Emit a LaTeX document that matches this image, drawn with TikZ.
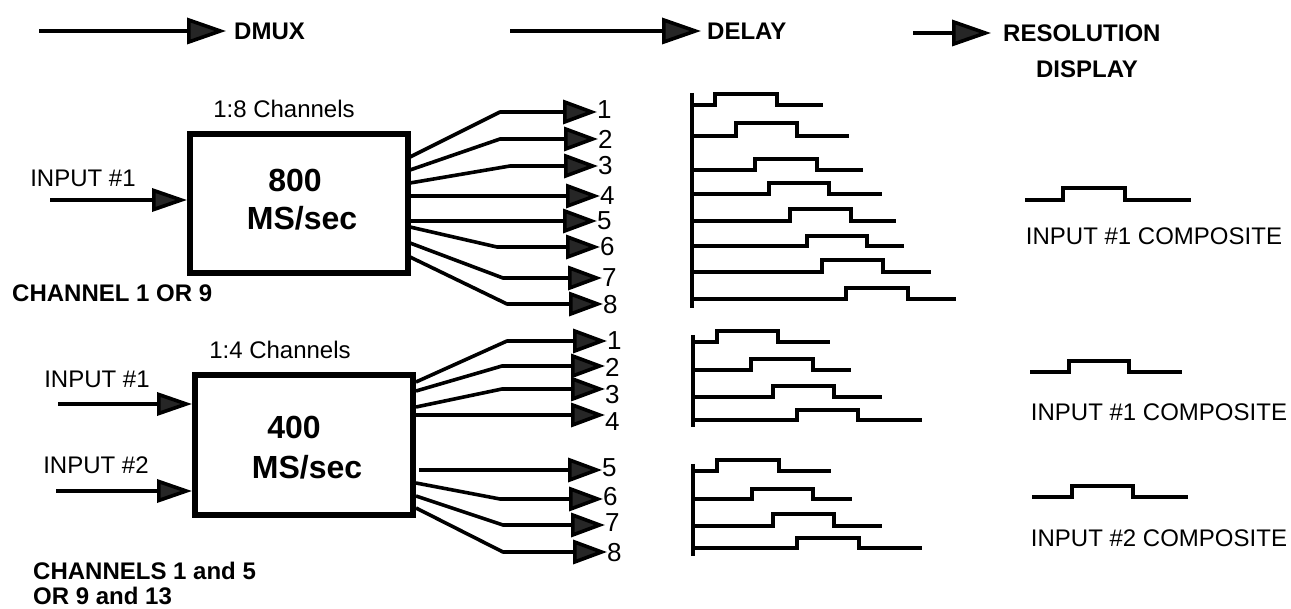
\documentclass[tikz,border=0pt]{standalone}
\usepackage{fontspec}
\setmainfont{Liberation Sans}
\usetikzlibrary{arrows.meta}
\begin{document}
\begin{tikzpicture}[x=1pt,y=-1pt,
  txt/.style={font=\fontsize{24}{28}\selectfont, inner sep=0pt},
  btxt/.style={font=\fontsize{24}{28}\selectfont\bfseries, inner sep=0pt},
  bigtxt/.style={font=\fontsize{32}{36}\selectfont\bfseries, inner sep=0pt},
  numtxt/.style={font=\fontsize{26}{28}\selectfont, inner sep=0pt, anchor=west},
  hdrarrow/.style={line width=3.6pt, -{Triangle[length=39pt,width=26pt,fill=black!85]}},
  arr/.style={line width=3.6pt, line join=round, -{Triangle[length=34pt,width=24pt,fill=black!85]}},
  inarr/.style={line width=3.6pt, -{Triangle[length=35pt,width=23pt,fill=black!85]}},
  dmuxbox/.style={draw, line width=6pt, inner sep=0pt},
  wave/.style={line width=3.2pt, line join=miter},
  waveaxis/.style={line width=4pt}
]
\useasboundingbox (0,0) rectangle (1291,609);

% ---------- header ----------
\node[btxt, anchor=west] (dmux) at (234,31) {DMUX};
\coordinate (h1) at (39,31);
\draw[hdrarrow] (h1) -- ([xshift=-8pt]dmux.west);
\node[btxt, anchor=west] (delay) at (707,31) {DELAY};
\coordinate (h2) at (510,31);
\draw[hdrarrow] (h2) -- ([xshift=-6pt]delay.west);
\node[btxt, anchor=west] (res) at (1003,33) {RESOLUTION};
\node[btxt] (disp) at (1087,69) {DISPLAY};
\coordinate (h3) at (913,33);
\draw[hdrarrow] (h3) -- ([xshift=-12pt]res.west);

% ---------- DMUX 1:8 ----------
\node[dmuxbox, minimum width=218pt, minimum height=139pt] (box1) at (299,203.5) {};
\node[txt] (ch8) at (284,109) {1:8 Channels};
\node[bigtxt] (t800) at (295,180) {800};
\node[bigtxt] (tms1) at (302,218) {MS/sec};
\node[txt] (in11) at (83,178) {INPUT \#1};
\coordinate (i11) at (50,200);
\draw[inarr] (i11) -- (i11 -| box1.west);
\node[btxt, anchor=west] (chn1) at (12,293) {CHANNEL 1 OR 9};

\foreach \i/\sy/\bx/\by/\tx/\dy in {1/157/500/112/597/-2, 2/170/500/139/598/0, 3/183/510/166/598/0,
  4/196/500/196/600/0, 5/221/500/221/597/0, 6/227/497/247/600/0, 7/243/503/278/602/0, 8/257/507/304/603/1} {
  \coordinate (a\i) at (410,\sy);
  \coordinate (ab\i) at (\bx,\by);
  \node[numtxt] (p\i) at (\tx,\by+\dy) {\i};
  \draw[arr] (a\i) -- (ab\i) -- (p\i.west |- ab\i);
}

% ---------- DMUX 1:4 ----------
\node[dmuxbox, minimum width=218pt, minimum height=140pt] (box2) at (304,445) {};
\node[txt] (ch4) at (280,350) {1:4 Channels};
\node[bigtxt] (t400) at (294,427) {400};
\node[bigtxt] (tms2) at (307,467) {MS/sec};
\node[txt] (in21) at (97,379) {INPUT \#1};
\coordinate (i21) at (58,404);
\draw[inarr] (i21) -- (i21 -| box2.west);
\node[txt] (in22) at (96,465) {INPUT \#2};
\coordinate (i22) at (56,491);
\draw[inarr] (i22) -- (i22 -| box2.west);
\node[btxt, anchor=west] (chn2a) at (33,571) {CHANNELS 1 and 5};
\node[btxt, anchor=west] (chn2b) at (33,596) {OR 9 and 13};

\foreach \i/\sx/\sy/\bx/\by/\tx/\dy in {1/416/382/507/341/607/0, 2/416/391/502/366/605/1, 3/416/407/502/389/605/6,
  4/416/415/500/415/605/7, 5/419/470/500/470/602/-2, 6/416/483/500/499/603/-2, 7/416/496/503/525/605/-2, 8/416/508/503/552/607/1} {
  \coordinate (c\i) at (\sx,\sy);
  \coordinate (cb\i) at (\bx,\by);
  \node[numtxt] (q\i) at (\tx,\by+\dy) {\i};
  \draw[arr] (c\i) -- (cb\i) -- (q\i.west |- cb\i);
}

% ---------- delay waveforms ----------
\draw[waveaxis] (692,93) -- (692,308);
\foreach \b/\h/\r/\f/\e in {105/94/715/777/823, 136/123/736/797/849, 170/159/755/817/863,
  194/183/769/829/882, 221/209/790/851/896, 246/236/807/867/904, 272/260/822/883/931, 299/288/846/908/956}
  \draw[wave] (692,\b) -- (\r,\b) -- (\r,\h) -- (\f,\h) -- (\f,\b) -- (\e,\b);

\draw[waveaxis] (693,335) -- (693,427);
\foreach \b/\h/\r/\f/\e in {342/331/717/778/830, 370/359/751/813/851, 397/386/773/834/882, 420/410/797/858/922}
  \draw[wave] (693,\b) -- (\r,\b) -- (\r,\h) -- (\f,\h) -- (\f,\b) -- (\e,\b);

\draw[waveaxis] (693,464) -- (693,556);
\foreach \b/\h/\r/\f/\e in {471/460/717/779/831, 499/489/752/813/852, 526/514/773/834/882, 548/538/797/859/922}
  \draw[wave] (693,\b) -- (\r,\b) -- (\r,\h) -- (\f,\h) -- (\f,\b) -- (\e,\b);

% ---------- resolution display ----------
\foreach \s/\b/\h/\r/\f/\e in {1025/200/188/1063/1125/1191, 1030/372/361/1069/1129/1182, 1032/497/486/1072/1133/1188}
  \draw[wave] (\s,\b) -- (\r,\b) -- (\r,\h) -- (\f,\h) -- (\f,\b) -- (\e,\b);
\node[txt] (comp1) at (1154,236) {INPUT \#1 COMPOSITE};
\node[txt] (comp2) at (1159,412) {INPUT \#1 COMPOSITE};
\node[txt] (comp3) at (1159,538) {INPUT \#2 COMPOSITE};
\end{tikzpicture}
\end{document}
